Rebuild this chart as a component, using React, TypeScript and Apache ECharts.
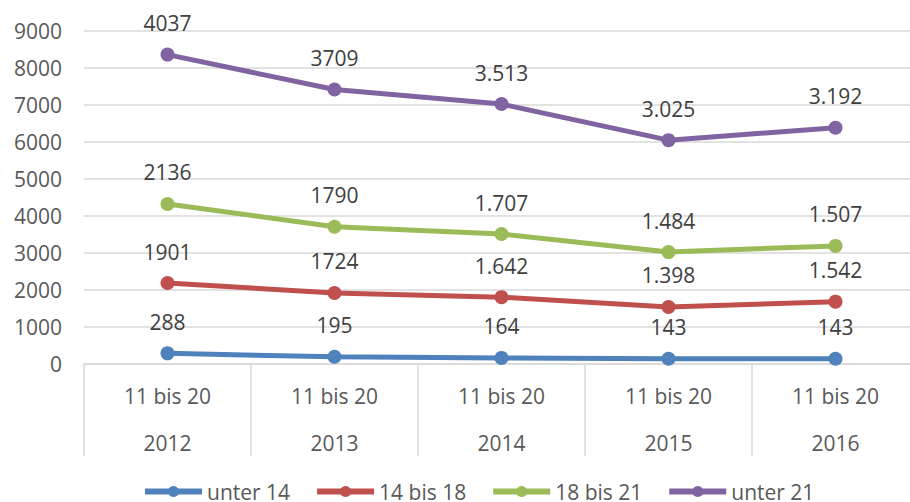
import React, { useEffect, useRef } from "react";
import * as echarts from "echarts";

const years = ["2012", "2013", "2014", "2015", "2016"];
const subLabel = "11 bis 20";
const seriesNames = ["unter 14", "14 bis 18", "18 bis 21", "unter 21"];
const unter14 = [288, 195, 164, 143, 143];
const bis18 = [1901, 1724, 1642, 1398, 1542];
const bis21 = [2136, 1790, 1707, 1484, 1507];
const unter21 = [4037, 3709, 3513, 3025, 3192];
const labels14 = ["288", "195", "164", "143", "143"];
const labels18 = ["1901", "1724", "1.642", "1.398", "1.542"];
const labels21 = ["2136", "1790", "1.707", "1.484", "1.507"];
const labelsU21 = ["4037", "3709", "3.513", "3.025", "3.192"];
const colors = ["#4F81BD", "#C0504D", "#9BBB59", "#8064A2"];
const yTicks = { min: 0, max: 9000, interval: 1000 };

const FONT = "'Open Sans', sans-serif";

export default function App() {
  const ref = useRef<HTMLDivElement>(null);
  useEffect(() => {
    const chart = echarts.init(ref.current!, null, { renderer: "svg" });
    const values = [unter14, bis18, bis21, unter21];
    const lbls = [labels14, labels18, labels21, labelsU21];
    chart.setOption({
      animation: false,
      textStyle: { fontFamily: FONT },
      grid: { left: 84, width: 835, top: 31, height: 333, containLabel: false, outerBoundsMode: "none" },
      legend: {
        left: 137,
        top: 476,
        itemWidth: 57,
        itemHeight: 14,
        itemGap: 24,
        lineStyle: { width: 6 },
        textStyle: { fontSize: 21, color: "#595959", fontFamily: FONT },
        data: seriesNames,
      },
      xAxis: {
        type: "category",
        data: years,
        boundaryGap: true,
        axisLine: { show: true, lineStyle: { color: "#d9d9d9", width: 1.5 } },
        axisTick: { show: true, alignWithLabel: false, length: 92, lineStyle: { color: "#d9d9d9", width: 1.5 } },
        axisLabel: {
          margin: 8,
          formatter: (v: string) => `{a|${subLabel}}\n{b|${v}}`,
          rich: {
            a: { fontSize: 21, color: "#595959", fontFamily: FONT, lineHeight: 47 },
            b: { fontSize: 21, color: "#595959", fontFamily: FONT, lineHeight: 47 },
          },
        },
      },
      yAxis: {
        type: "value",
        ...yTicks,
        axisLine: { show: false },
        axisTick: { show: false },
        axisLabel: { fontSize: 21, color: "#595959", fontFamily: FONT, margin: 22, formatter: (v: number) => String(v) },
        splitLine: { lineStyle: { color: "#d9d9d9", width: 1.5 } },
      },
      series: values.map((d, i) => ({
        name: seriesNames[i],
        type: "line",
        stack: "total",
        data: d,
        symbol: "circle",
        symbolSize: 14,
        lineStyle: { width: 5, color: colors[i] },
        itemStyle: { color: colors[i] },
        label: {
          show: true,
          position: "top",
          distance: 14,
          fontSize: 21,
          color: "#404040",
          fontFamily: FONT,
          formatter: (p: any) => lbls[i][p.dataIndex],
        },
      })),
    });
    return () => chart.dispose();
  }, []);
  return <div ref={ref} style={{ width: 910, height: 502, position: "absolute", left: 0, top: 0 }} />;
}
